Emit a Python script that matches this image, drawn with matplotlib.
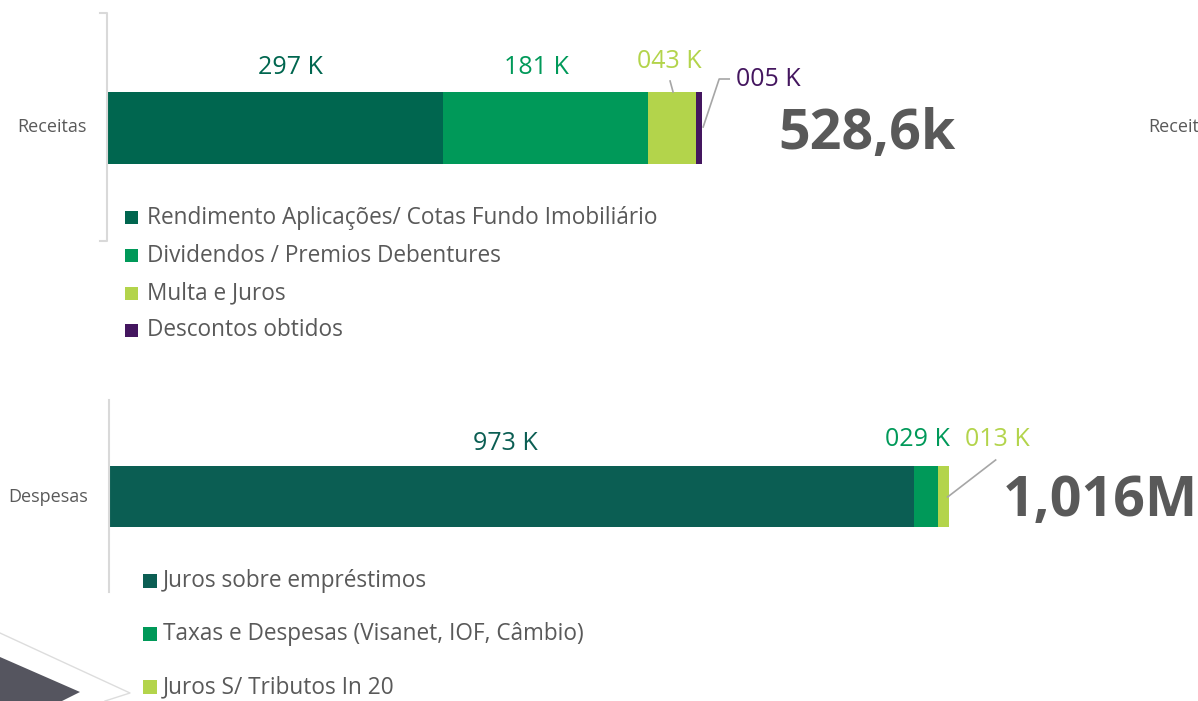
import matplotlib.pyplot as plt
from matplotlib.patches import Rectangle, Polygon
from matplotlib.lines import Line2D
from matplotlib.transforms import blended_transform_factory

plt.rcParams['font.family'] = ['Open Sans', 'DejaVu Sans']

# ---- data ----
receitas_cats = ['Rendimento Aplicações/ Cotas Fundo Imobiliário',
                 'Dividendos / Premios Debentures',
                 'Multa e Juros',
                 'Descontos obtidos']
receitas_vals = [297, 181, 43, 5]
receitas_total = '528,6k'

despesas_cats = ['Juros sobre empréstimos',
                 'Taxas e Despesas (Visanet, IOF, Câmbio)',
                 'Juros S/ Tributos In 20']
despesas_vals = [973, 29, 13]
despesas_total = '1,016M'

# ---- style ----
top_colors = ['#00664F', '#009959', '#B3D44B', '#44165F']
bot_colors = ['#0B5E53', '#009959', '#B3D44B']
GRAY = '#595959'
LEADER = '#A6A6A6'
AXLINE = '#D9D9D9'

W, H = 1198, 701
fig = plt.figure(figsize=(W / 100, H / 100), dpi=100)


def fx(x):
    return x / W


def fy(y):
    return 1 - y / H


def bar_panel(vals, colors, x0, x1, ytop, ybot):
    ax = fig.add_axes([fx(x0), fy(ybot), (W - x0) / W, (ybot - ytop) / H])
    scale = (x1 - x0) / sum(vals)  # pixels per unit
    ax.set_xlim(0, (W - x0) / scale)
    ax.set_ylim(-0.5, 0.5)
    left = 0
    centers = []
    for v, c in zip(vals, colors):
        ax.barh(0, v, left=left, height=1, color=c, linewidth=0)
        centers.append(left + v / 2)
        left += v
    ax.axis('off')
    return ax, scale, centers


def data_labels(ax, scale, vals, colors, centers, layout, leaders):
    tr = blended_transform_factory(ax.transData, fig.transFigure)
    for v, c, cx, (dx, y, ha) in zip(vals, colors, centers, layout):
        ax.text(cx + dx / scale, fy(y), f'{v:03d} K', color=c, fontsize=18,
                ha=ha, va='center', transform=tr, clip_on=False)
    for i, pts in leaders:
        xs = [centers[i] + p[0] / scale for p in pts]
        ys = [fy(p[1]) for p in pts]
        ax.add_line(Line2D(xs, ys, color=LEADER, lw=1.2, transform=tr, clip_on=False))


# ---- Receitas ----
ax1, s1, c1 = bar_panel(receitas_vals, top_colors, 108, 702, 92, 164)
data_labels(ax1, s1, receitas_vals, top_colors, c1,
            [(15, 67, 'center'), (-9, 67, 'center'), (-3, 61, 'center'), (37, 80, 'left')],
            [(2, [(1, 92), (-2, 81)]), (3, [(4, 127), (20, 79), (30, 79)])])
fig.text(fx(778), fy(149), receitas_total, fontsize=40, fontweight='bold',
         color=GRAY, ha='left', va='baseline')
fig.text(fx(87), fy(127), 'Receitas', fontsize=13, color=GRAY, ha='right', va='center')
# start of the next panel, cut by the right edge as in the source
fig.text(fx(1148), fy(127), 'Receitas', fontsize=13, color=GRAY, ha='left', va='center')
fig.add_artist(Line2D([fx(100), fx(107), fx(107), fx(100)],
                      [fy(13), fy(13), fy(241), fy(241)], color=AXLINE, lw=1.5))

for i, (name, col) in enumerate(zip(receitas_cats, top_colors)):
    yc = 218 + i * 37.5
    fig.add_artist(Rectangle((fx(125), fy(yc + 6.5)), 13 / W, 13 / H, color=col, lw=0))
    fig.text(fx(147), fy(yc), name, fontsize=16.3, color=GRAY, ha='left', va='center')

# ---- Despesas ----
ax2, s2, c2 = bar_panel(despesas_vals, bot_colors, 110, 949, 466, 527)
data_labels(ax2, s2, despesas_vals, bot_colors, c2,
            [(-7, 443, 'center'), (-9, 439, 'center'), (21, 439, 'left')],
            [(2, [(4, 497), (52, 460)])])
fig.text(fx(1003), fy(516), despesas_total, fontsize=40, fontweight='bold',
         color=GRAY, ha='left', va='baseline')
fig.text(fx(88), fy(497), 'Despesas', fontsize=13, color=GRAY, ha='right', va='center')
fig.add_artist(Line2D([fx(109), fx(109)], [fy(400), fy(592)], color=AXLINE, lw=1.5))

for i, (name, col) in enumerate(zip(despesas_cats, bot_colors)):
    yc = 581 + i * 53
    fig.add_artist(Rectangle((fx(143), fy(yc + 7)), 14 / W, 14 / H, color=col, lw=0))
    fig.text(fx(163), fy(yc), name, fontsize=16.3, color=GRAY, ha='left', va='center')

# ---- decoration bottom-left ----
fig.add_artist(Polygon([(fx(0), fy(657)), (fx(80), fy(692)), (fx(62), fy(701)), (fx(0), fy(701))],
                       closed=True, color='#55555F', lw=0))
fig.add_artist(Line2D([fx(0), fx(130), fx(105)], [fy(633), fy(693), fy(701)],
                      color='#DDDDDD', lw=1))

fig.savefig('out.png', dpi=100)
